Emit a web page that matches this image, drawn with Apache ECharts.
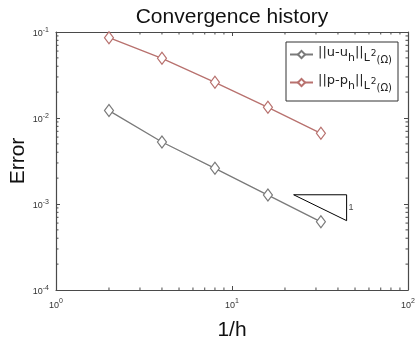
<!DOCTYPE html>
<html>
<head>
<meta charset="utf-8">
<script src="https://cdn.jsdelivr.net/npm/echarts@6/dist/echarts.min.js"></script>
<style>
  html, body { margin: 0; padding: 0; background: #fff; }
  #chart { width: 419px; height: 339px; }
</style>
</head>
<body>
<div id="chart"></div>
<script>
// mesh refinement 1/h and errors
const invH = [2, 4, 8, 16, 32];
const errU = [0.0122, 0.00526, 0.0026, 0.00127, 0.00062];
const errP = [0.0859, 0.0494, 0.0260, 0.0133, 0.00664];

// slope-1 reference triangle
const triX = [22.4, 44.8];
const triY = [0.00128, 0.00064];

// axis ranges (decades)
const xRange = [1, 100];
const yRange = [1e-4, 1e-1];

// minor ticks 2..9 x 10^k
const minorX = [];
for (let k = 0; k < 2; k++) for (let m = 2; m <= 9; m++) minorX.push(m * Math.pow(10, k));
const minorY = [];
for (let k = -4; k < -1; k++) for (let m = 2; m <= 9; m++) minorY.push(+(m * Math.pow(10, k)).toPrecision(3));

const FONT = '"Liberation Sans", Arial, sans-serif';
const LFONT = '"DejaVu Sans", sans-serif';
const AXIS = '#4a4a4a';
const GREY = '#7a7a7a';
const RED = '#b8716e';

const chart = echarts.init(document.getElementById('chart'), null, { renderer: 'canvas' });

const expLabel = (v) => '{b|10}{s|' + Math.round(Math.log10(v)) + '}';
const labelRich = {
  b: { fontSize: 9, color: '#333', fontFamily: FONT, padding: [4, 0, 0, 0] },
  s: { fontSize: 7, color: '#333', fontFamily: FONT, padding: [0, 0, 4, 0] },
};

const baseAxis = {
  type: 'log',
  logBase: 10,
  axisLine: { lineStyle: { color: AXIS, width: 1.2 } },
  axisTick: { inside: true, length: 4, lineStyle: { color: AXIS } },
  splitLine: { show: false },
};

// legend text: ||u-u_h||_{L^2(Ω)}
const legendRich = {
  n: { fontSize: 13, lineHeight: 16, color: '#222', fontFamily: LFONT, padding: [0, 0, 4, 0] },
  h: { fontSize: 11, lineHeight: 6, color: '#222', fontFamily: LFONT, padding: [7, 0, 0, 0] },
  t: { fontSize: 9, lineHeight: 6, color: '#222', fontFamily: LFONT, padding: [0, 0, 2, 1] },
  o: { fontSize: 10, lineHeight: 6, color: '#222', fontFamily: LFONT, padding: [11, 0, 0, 0] },
};
const legendText = {
  u: '{n|||u-u}{h|h}{n|||}{h|L}{t|2}{o|(Ω)}',
  p: '{n|||p-p}{h|h}{n|||}{h|L}{t|2}{o|(Ω)}',
};

// draws short inward minor ticks on both opposite spines
function minorTickRenderer(dir) {
  return function (params, api) {
    const v = api.value(dir === 'x' ? 0 : 1);
    const style = { stroke: AXIS, lineWidth: 1 };
    if (dir === 'x') {
      const b = api.coord([v, yRange[0]]);
      const t = api.coord([v, yRange[1]]);
      return { type: 'group', children: [
        { type: 'line', shape: { x1: b[0], y1: b[1], x2: b[0], y2: b[1] - 2.5 }, style },
        { type: 'line', shape: { x1: t[0], y1: t[1], x2: t[0], y2: t[1] + 2.5 }, style },
      ] };
    }
    const l = api.coord([xRange[0], v]);
    const r = api.coord([xRange[1], v]);
    return { type: 'group', children: [
      { type: 'line', shape: { x1: l[0], y1: l[1], x2: l[0] + 2.5, y2: l[1] }, style },
      { type: 'line', shape: { x1: r[0], y1: r[1], x2: r[0] - 2.5, y2: r[1] }, style },
    ] };
  };
}

const option = {
  animation: false,
  backgroundColor: '#fff',
  title: {
    text: 'Convergence history',
    left: 227,
    textAlign: 'center',
    top: 2,
    textStyle: { fontSize: 21, fontWeight: 'normal', color: '#111', fontFamily: FONT },
  },
  grid: { left: 56, right: 11, top: 32, bottom: 49, outerBoundsMode: 'none', containLabel: false },
  legend: {
    data: ['u', 'p'],
    orient: 'vertical',
    right: 21,
    top: 42,
    itemWidth: 23,
    itemHeight: 9,
    itemGap: 7,
    padding: [2, 6, 8, 3],
    borderColor: '#333',
    borderWidth: 1,
    backgroundColor: '#fff',
    borderRadius: 0,
    formatter: (name) => legendText[name],
    textStyle: { rich: legendRich },
  },
  xAxis: [
    {
      ...baseAxis,
      min: xRange[0],
      max: xRange[1],
      name: '1/h',
      nameLocation: 'middle',
      nameGap: 30,
      nameTextStyle: { fontSize: 21, color: '#111', fontFamily: FONT },
      axisLabel: { margin: 7, formatter: expLabel, rich: labelRich },
    },
    {
      ...baseAxis,
      position: 'top',
      min: xRange[0],
      max: xRange[1],
      axisLabel: { show: false },
    },
  ],
  yAxis: [
    {
      ...baseAxis,
      min: yRange[0],
      max: yRange[1],
      name: 'Error',
      nameLocation: 'middle',
      nameGap: 27,
      nameMoveOverlap: false,
      nameTextStyle: { fontSize: 21, color: '#111', fontFamily: FONT },
      axisLabel: { margin: 7, formatter: expLabel, rich: labelRich },
    },
    {
      ...baseAxis,
      position: 'right',
      min: yRange[0],
      max: yRange[1],
      axisLabel: { show: false },
    },
  ],
  series: [
    {
      name: 'u',
      type: 'line',
      data: invH.map((x, i) => [x, errU[i]]),
      symbol: 'diamond',
      symbolSize: [9, 12],
      showAllSymbol: true,
      lineStyle: { color: GREY, width: 1.3 },
      itemStyle: { color: '#fff', borderColor: GREY, borderWidth: 1.2 },
      emphasis: { disabled: true },
      z: 3,
    },
    {
      name: 'p',
      type: 'line',
      data: invH.map((x, i) => [x, errP[i]]),
      symbol: 'diamond',
      symbolSize: [9, 12],
      showAllSymbol: true,
      lineStyle: { color: RED, width: 1.3 },
      itemStyle: { color: '#fff', borderColor: RED, borderWidth: 1.2 },
      emphasis: { disabled: true },
      z: 3,
    },
    {
      name: 'slope',
      type: 'line',
      data: [[triX[0], triY[0]], [triX[1], triY[0]], [triX[1], triY[1]], [triX[0], triY[0]]],
      symbol: 'none',
      lineStyle: { color: '#000', width: 1 },
      silent: true,
    },
    {
      name: 'slopeLabel',
      type: 'scatter',
      data: [[triX[1], Math.sqrt(triY[0] * triY[1])]],
      symbolSize: 0,
      silent: true,
      label: { show: true, position: 'right', distance: 2, formatter: '1', fontSize: 9, color: '#111', fontFamily: FONT },
    },
    {
      type: 'custom',
      data: minorX.map((v) => [v, yRange[0]]),
      renderItem: minorTickRenderer('x'),
      silent: true,
      clip: false,
    },
    {
      type: 'custom',
      data: minorY.map((v) => [xRange[0], v]),
      renderItem: minorTickRenderer('y'),
      silent: true,
      clip: false,
    },
  ],
};

chart.setOption(option);
</script>
</body>
</html>
